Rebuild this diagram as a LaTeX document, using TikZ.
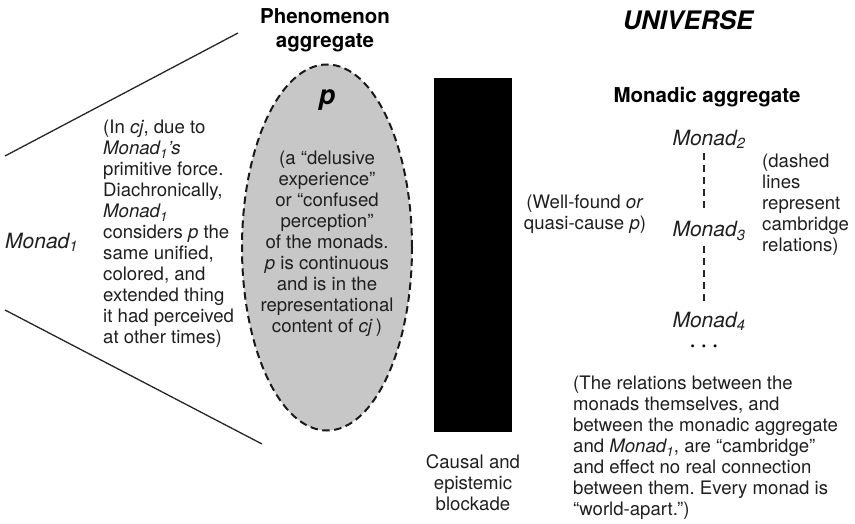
\documentclass[tikz,border=0pt]{standalone}
\usepackage{fontspec}
\setmainfont{TeX Gyre Heros}
\usetikzlibrary{shapes.geometric}
\newcommand\mon[1]{\textit{Monad\textsubscript{#1}}}
\frenchspacing
\begin{document}
\begin{tikzpicture}[x=1pt,y=-1pt,
  txt/.style={font=\fontsize{18.6}{21}\selectfont, inner sep=0pt, text=black!88},
  ttl/.style={font=\fontsize{20.5}{24}\selectfont\bfseries, inner sep=0pt, align=center},
  monlabel/.style={font=\fontsize{21}{24}\selectfont, inner sep=0pt, text=black!88},
  edge/.style={line width=1.3pt, black!85},
  cambridge/.style={line width=1.8pt, dash pattern=on 7pt off 5pt, black!85}]
\useasboundingbox (0,0) rectangle (855,524);

% perspective lines from Monad 1
\coordinate (upA) at (5,156);
\coordinate (upB) at (238,33);
\coordinate (loA) at (5,310);
\coordinate (loB) at (262,444);
\draw[edge] (upA) -- (upB);
\draw[edge] (loA) -- (loB);

\node[monlabel, anchor=west] (m1) at (5,242) {\mon{1}};

\node[txt, anchor=west, align=left] (note1) at (103,234) {(In \textit{cj}, due to\\
\textit{Monad\textsubscript{1}’s}\\
primitive force.\\
Diachronically,\\
\mon{1}\\
considers \textit{p} the\\
same unified,\\
colored, and\\
extended thing\\
it had perceived\\
at other times)};

% phenomenon aggregate
\node[ttl] (phtitle) at (325,30) {Phenomenon\\aggregate};
\node[ellipse, draw=black!90, fill=black!22, line width=2pt,
      dash pattern=on 7.5pt off 4.5pt, minimum width=170pt, minimum height=366pt,
      inner sep=0pt] (phen) at (327,247.5) {};
\node[font=\fontsize{27}{30}\selectfont\bfseries\itshape, inner sep=0pt] (p) at (327,100) {p};
\node[txt, align=center] (pdesc) at (327,244) {(a “delusive\\
experience”\\
or “confused\\
perception”\\
of the monads.\\
\textit{p} is continuous\\
and is in the\\
representational\\
content of \textit{cj}\,)};

% blockade
\node[fill=black, draw=none, minimum width=78pt, minimum height=354pt, inner sep=0pt] (block) at (473,255) {};
\node[txt, align=center] (blocklab) at (473,483) {Causal and\\epistemic\\blockade};

\node[txt, align=center] (wellfound) at (585,214) {(Well-found \textit{or}\\quasi-cause \textit{p})};

% universe side
\node[font=\fontsize{25.5}{28}\selectfont\bfseries\itshape, inner sep=0pt] (univ) at (688,20) {UNIVERSE};
\node[ttl] (monagg) at (707,97) {Monadic aggregate};

\node[monlabel] (m2) at (709,139) {\mon{2}};
\node[monlabel] (m3) at (709,231) {\mon{3}};
\node[monlabel] (m4) at (709,321) {\mon{4}};
\node[font=\fontsize{12}{14}\selectfont, inner sep=0pt] (dots) at (704,348) {•\hspace{7pt}•\hspace{7pt}•};

\coordinate (d2) at (704,153);
\coordinate (d3a) at (704,212);
\coordinate (d3b) at (704,246);
\coordinate (d4) at (704,304);
\draw[cambridge] (d2) -- (d3a);
\draw[cambridge] (d3b) -- (d4);

\node[txt, anchor=west, align=left] (dashnote) at (762,205) {(dashed\\lines\\represent\\cambridge\\relations)};

\node[txt, anchor=north west, align=left] (relnote) at (573,376) {(The relations between the\\
monads themselves, and\\
between the monadic aggregate\\
and \mon{1}, are “cambridge”\\
and effect no real connection\\
between them. Every monad is\\
“world-apart.”)};
\end{tikzpicture}
\end{document}
